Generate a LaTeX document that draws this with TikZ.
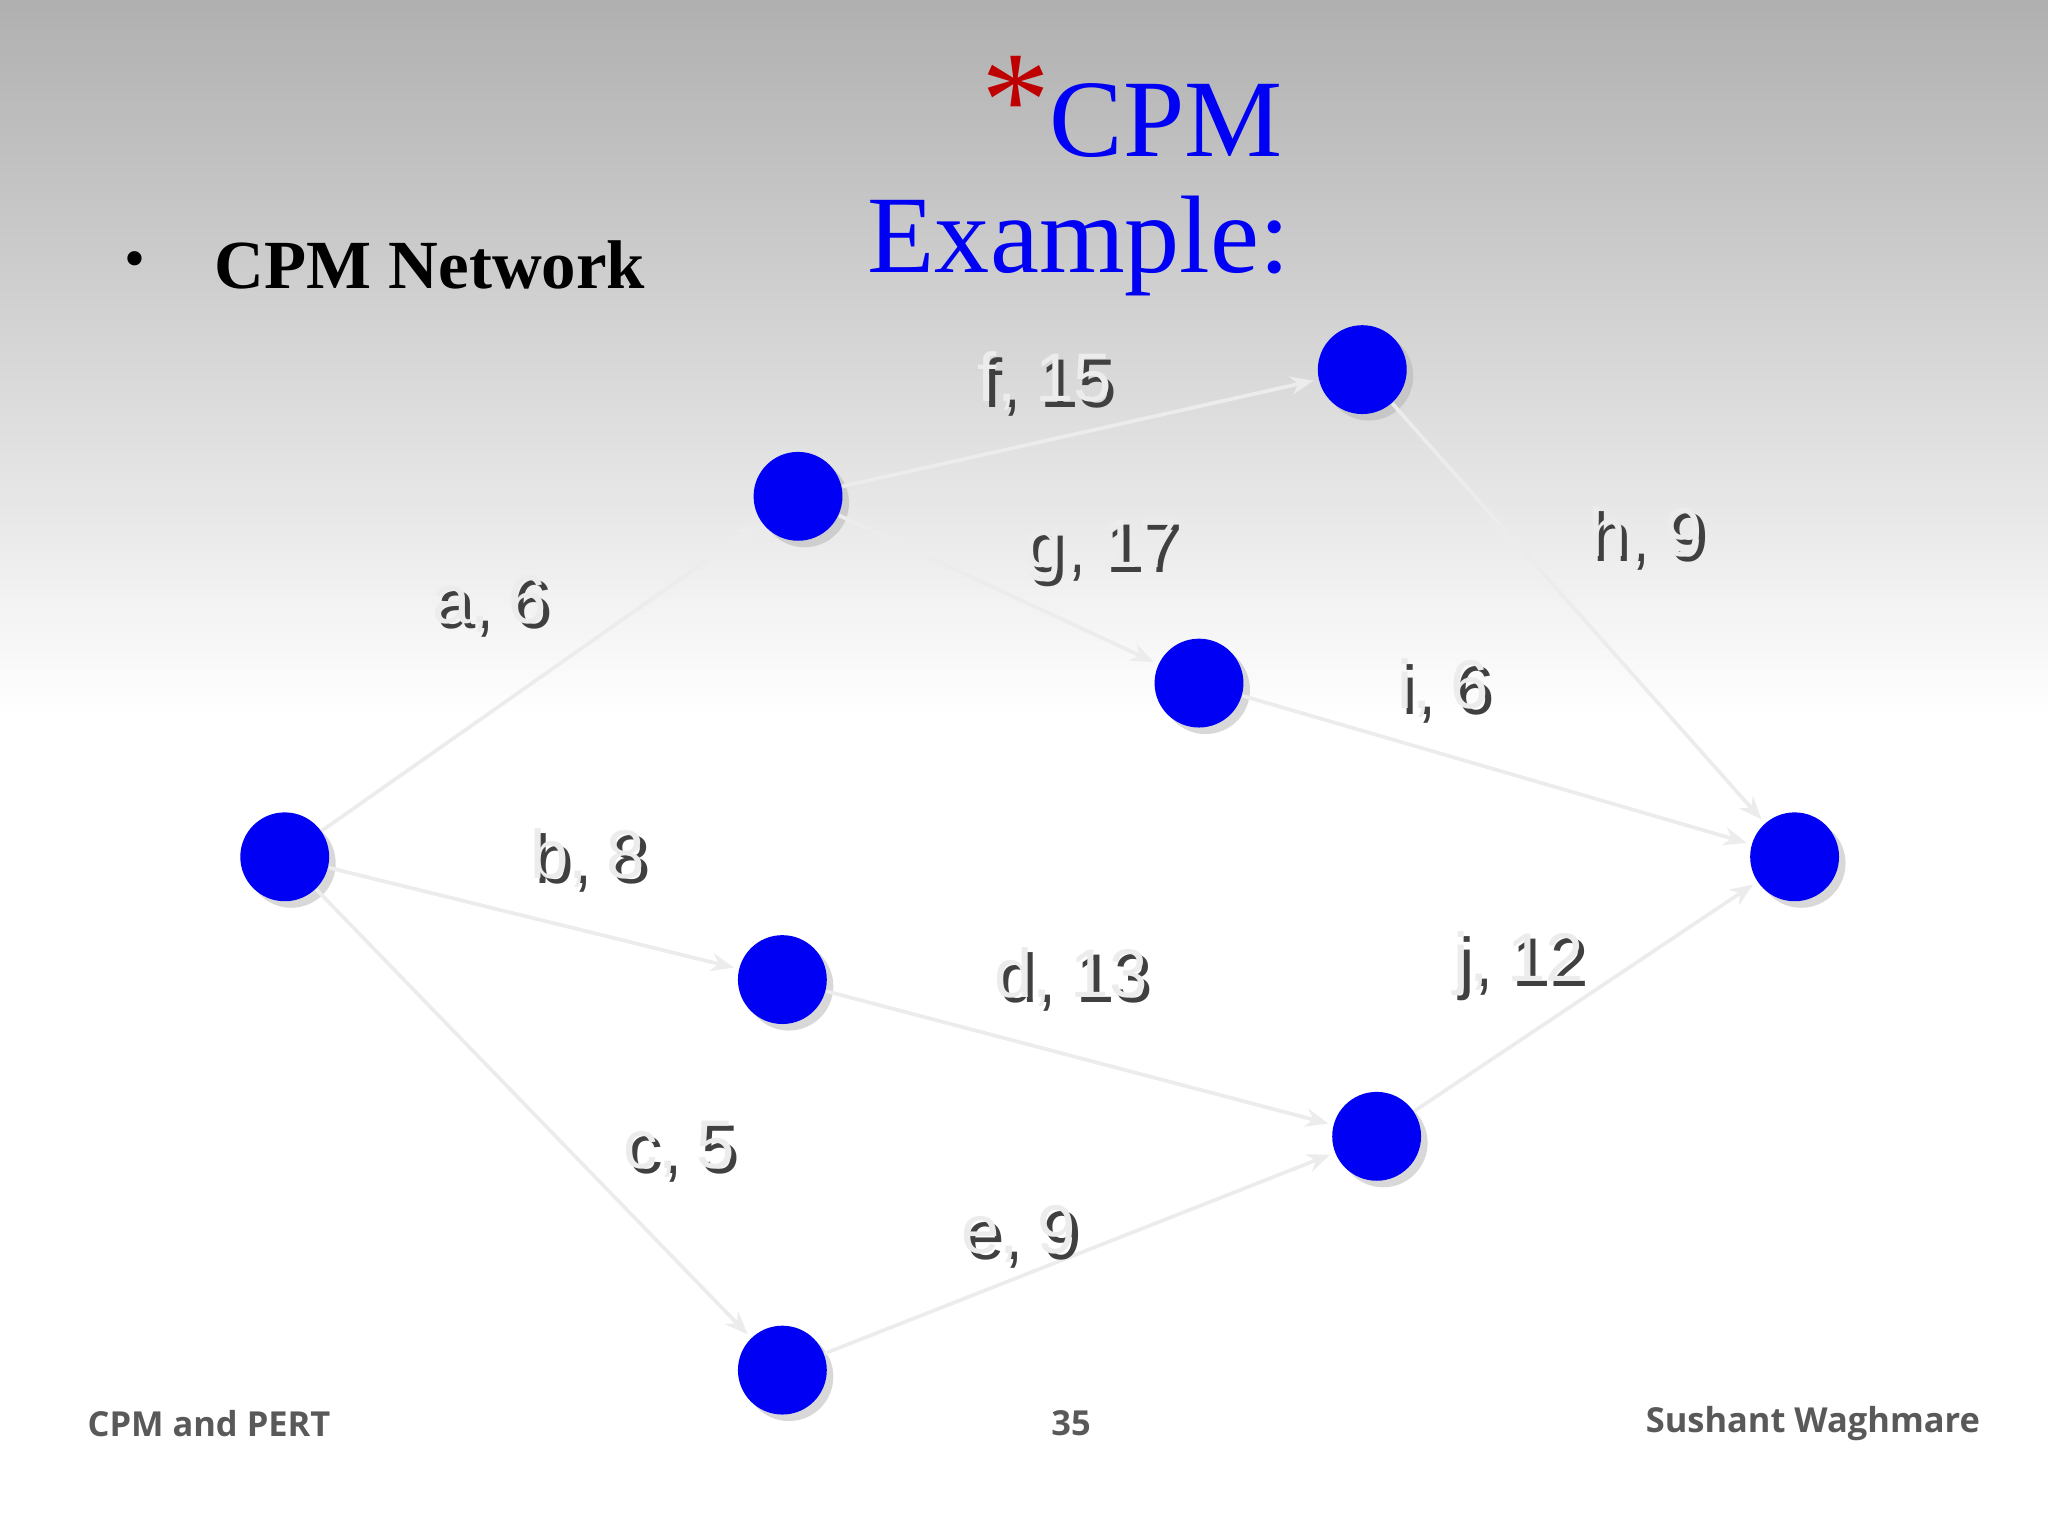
\documentclass[tikz,border=0pt]{standalone}
\usepackage{fontspec}
\setmainfont{Liberation Serif}
\setsansfont{Liberation Sans}
\newfontfamily\footfont{Open Sans}
\usetikzlibrary{arrows.meta,shadows}
\definecolor{bgblue}{RGB}{125,190,238}
\definecolor{nodeblue}{RGB}{0,0,245}
\begin{document}
\begin{tikzpicture}[x=0.01cm,y=-0.01cm,
  ev/.style={circle,fill=nodeblue,minimum size=0.68cm,inner sep=0pt,drop shadow={shadow xshift=0.05cm,shadow yshift=-0.05cm,fill=gray!60}},
  act/.style={draw=gray!15,line width=0.8pt,-{Stealth[length=5pt,width=4pt]},shorten >=1pt},
  lab/.style={font=\sffamily\fontsize{15}{18}\selectfont,text=gray!15},
  foot/.style={font=\footfont\bfseries\fontsize{7.5}{9}\selectfont,text=gray!70!black}]
\useasboundingbox (0,0) rectangle (1568,1176);
\fill[bgblue] (0,0) rectangle (1568,1176);
\shade[inner color=white,outer color=bgblue,middle color=white] (-80,-330) rectangle (1648,1430);
% title
\node[text=red!75!black,font=\fontsize{30}{30}\selectfont] (ast) at (778,78) {*};
\node[text=nodeblue,font=\fontsize{24}{28}\selectfont] (t1) at (893,92) {CPM};
\node[text=nodeblue,font=\fontsize{24}{28}\selectfont] (t2) at (826,188) {Example:};
\node[font=\bfseries\fontsize{15}{18}\selectfont,anchor=west] (cn) at (152,203) {CPM Network};
\node[font=\fontsize{13}{16}\selectfont] (bul) at (103,203) {•};
% nodes
\node[ev] (s) at (218,656) {};
\node[ev] (a) at (611,380) {};
\node[ev] (f) at (1043,283) {};
\node[ev] (g) at (918,523) {};
\node[ev] (e) at (1374,656) {};
\node[ev] (b) at (599,750) {};
\node[ev] (j) at (1054,870) {};
\node[ev] (c) at (599,1049) {};
% edges
\draw[act] (s) -- (a);
\draw[act] (s) -- (b);
\draw[act] (s) -- (c);
\draw[act] (a) -- (f);
\draw[act] (a) -- (g);
\draw[act] (f) -- (e);
\draw[act] (g) -- (e);
\draw[act] (b) -- (j);
\draw[act] (c) -- (j);
\draw[act] (j) -- (e);
% labels
\foreach \xx/\yy/\tt/\nm in {375/462/{a, 6}/la,450/657/{b, 8}/lb,520/880/{c, 5}/lc,800/292/{f, 15}/lf,843/422/{g, 17}/lg,1260/410/{h, 9}/lh,1105/527/{i, 6}/li,820/748/{d, 13}/ld,1163/738/{j, 12}/lj,780/945/{e, 9}/le}{
  \node[lab,text=black!75] at (\xx+4,\yy+4) {\tt};
  \node[lab] (\nm) at (\xx,\yy) {\tt};
}
% footer
\node[foot] (f1) at (160,1090) {CPM and PERT};
\node[foot] (f2) at (820,1090) {35};
\node[foot] (f3) at (1388,1090) {Sushant Waghmare};
\end{tikzpicture}
\end{document}
